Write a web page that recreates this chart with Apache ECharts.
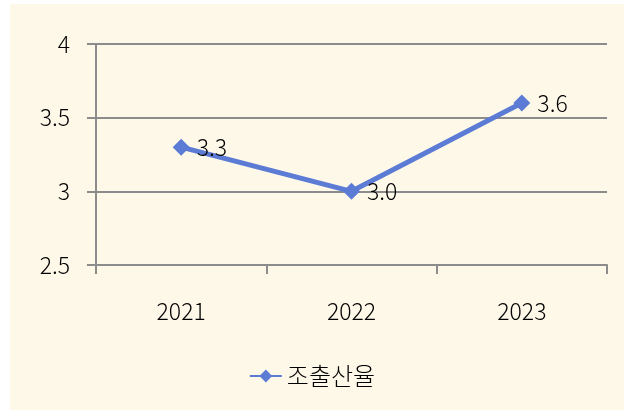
<!DOCTYPE html>
<html>
<head>
<meta charset="utf-8">
<script src="https://cdn.jsdelivr.net/npm/echarts@6/dist/echarts.min.js"></script>
<style>
html, body { margin: 0; padding: 0; background: #ffffff; }
#chart { width: 624px; height: 411px; }
</style>
</head>
<body>
<div id="chart"></div>
<script>
var years = ['2021', '2022', '2023'];
var birthRate = [3.3, 3.0, 3.6];
var rateLabels = ['3.3', '3.0', '3.6'];
var seriesName = '조출산율';

var fontName = '"Noto Sans CJK KR", "Noto Sans", sans-serif';
var gridColor = '#8c8c8c';
var lineColor = '#5b7bd5';

var myChart = echarts.init(document.getElementById('chart'));
var option = {
	textStyle: { fontFamily: fontName },
	graphic: [{
		type: 'rect',
		z: -10,
		shape: { x: 10, y: 4, width: 614, height: 406 },
		style: { fill: '#fdf8e8' }
	}],
	grid: { left: 96, right: 17, top: 44, bottom: 146 },
	xAxis: {
		type: 'category',
		data: years,
		boundaryGap: true,
		axisLine: { lineStyle: { color: gridColor, width: 2 } },
		axisTick: { show: true, length: 9, lineStyle: { color: gridColor, width: 2 } },
		axisLabel: { color: '#000', fontSize: 23, fontWeight: 300, margin: 35, fontFamily: fontName }
	},
	yAxis: {
		type: 'value',
		min: 2.5,
		max: 4,
		interval: 0.5,
		axisLine: { show: true, lineStyle: { color: gridColor, width: 2 } },
		axisTick: { show: true, length: 9, lineStyle: { color: gridColor, width: 2 } },
		splitLine: { lineStyle: { color: gridColor, width: 2 } },
		axisLabel: { color: '#000', fontSize: 23, fontWeight: 300, margin: 26, fontFamily: fontName }
	},
	legend: {
		bottom: 18,
		left: 'center',
		itemWidth: 32,
		itemHeight: 16,
		itemGap: 4,
		textStyle: { color: '#000', fontSize: 24, fontWeight: 300, fontFamily: fontName },
		data: [seriesName]
	},
	series: [{
		name: seriesName,
		type: 'line',
		data: birthRate,
		symbol: 'diamond',
		symbolSize: 17,
		lineStyle: { color: lineColor, width: 5 },
		itemStyle: { color: lineColor },
		label: {
			show: true,
			position: 'right',
			distance: 7,
			color: '#000',
			fontSize: 23,
			fontWeight: 300,
			fontFamily: fontName,
			formatter: function (p) { return rateLabels[p.dataIndex]; }
		},
		animation: false
	}]
};
myChart.setOption(option);
</script>
</body>
</html>
